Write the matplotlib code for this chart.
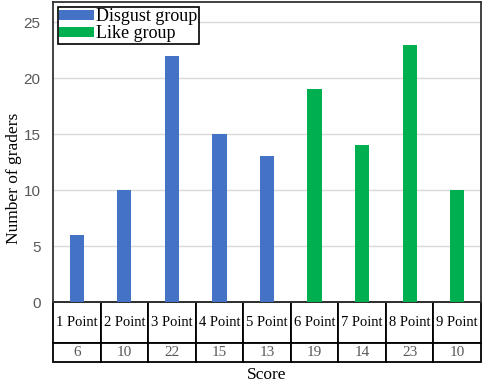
import numpy as np
import matplotlib.pyplot as plt

categories = ['1 Point', '2 Point', '3 Point', '4 Point', '5 Point',
              '6 Point', '7 Point', '8 Point', '9 Point']
counts = [6, 10, 22, 15, 13, 19, 14, 23, 10]
groups = ['Disgust group'] * 5 + ['Like group'] * 4

colors = {'Disgust group': '#4472C4', 'Like group': '#00B050'}
serif = 'Liberation Serif'

fig = plt.figure(figsize=(4.84, 3.83), dpi=100)
ax = fig.add_axes([53 / 484, 81 / 383, 428 / 484, 300 / 383])

x = np.arange(len(categories))
for g in ['Disgust group', 'Like group']:
    idx = [i for i, gg in enumerate(groups) if gg == g]
    ax.bar(x[idx], [counts[i] for i in idx], width=0.3,
           color=colors[g], label=g, zorder=3)

ax.set_xlim(-0.5, len(categories) - 0.5)
ax.set_ylim(0, 26.8)
ax.set_yticks([0, 5, 10, 15, 20, 25])
ax.yaxis.grid(True, color='#d9d9d9', lw=1, zorder=0)
ax.tick_params(axis='y', length=0, labelsize=11, labelcolor='#595959', pad=9)
ax.tick_params(axis='x', length=0, labelbottom=False)
for lab in ax.get_yticklabels():
    lab.set_family('Liberation Sans')
for s in ax.spines.values():
    s.set_color('#333333')
    s.set_linewidth(1.3)

fig.text(14 / 484, 1 - 178 / 383, 'Number of graders', family=serif,
         fontsize=12.5, rotation=90, ha='center', va='center')

# data table under the bars
tbl = ax.table(cellText=[categories, [str(c) for c in counts]],
               cellLoc='center', bbox=[0, -60 / 300, 1, 60 / 300])
tbl.auto_set_font_size(False)
for (r, c), cell in tbl.get_celld().items():
    cell.set_edgecolor('black')
    cell.set_linewidth(1.3)
    cell.get_text().set_family(serif)
    cell.get_text().set_fontsize(10.5)
    if r == 0:
        cell.set_height(41 / 300)
        cell.set_y(-41 / 300)
    else:
        cell.set_height(19 / 300)
        cell.set_y(-60 / 300)
        cell.get_text().set_color('#595959')
        cell.get_text().set_fontsize(11)

fig.text(0.5 * (53 + 481) / 484, 8 / 383, 'Score', family=serif,
         fontsize=12.5, ha='center', va='center')

leg = ax.legend(loc='upper left', prop={'family': serif, 'size': 13},
                fancybox=False, framealpha=1, borderpad=0.1,
                labelspacing=0.0, handlelength=1.9, handleheight=0.45,
                handletextpad=0.15, borderaxespad=0.25)
leg.get_frame().set_edgecolor('black')
leg.get_frame().set_linewidth(1.2)

fig.savefig('out.png', dpi=100)
